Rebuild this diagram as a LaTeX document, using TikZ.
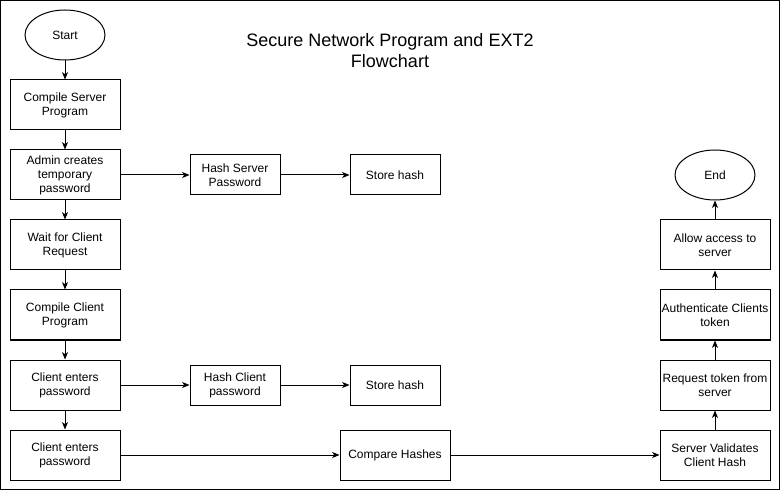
\documentclass[tikz,border=0pt]{standalone}
\usepackage{fontspec}
\setmainfont{Liberation Sans}
\usetikzlibrary{shapes.geometric,arrows.meta}
\begin{document}
\begin{tikzpicture}[x=0.75pt,y=-0.75pt,
  every node/.style={font=\fontsize{9}{10.5}\selectfont},
  box/.style={draw,line width=0.75pt,minimum width=82.5pt,minimum height=37.5pt,inner sep=1pt,align=center},
  sbox/.style={draw,line width=0.75pt,minimum width=67.5pt,minimum height=30pt,inner sep=1pt,align=center},
  term/.style={draw,ellipse,line width=0.75pt,minimum width=60pt,minimum height=37.5pt,inner sep=1pt,align=center},
  conn/.style={line width=0.75pt,-{Stealth[length=5.5pt,width=4.5pt,inset=1.5pt]}}]
\useasboundingbox (0,0) rectangle (781,491);
\draw[line width=0.75pt] (0.5,0.5) rectangle (779.5,489.5);
\node[align=center,font=\fontsize{13.5}{15.75}\selectfont] (title) at (390,51) {Secure Network Program and EXT2\\Flowchart};
\node[term] (start) at (65,35) {Start};
\node[box] (csp) at (65,105) {Compile Server\\Program};
\node[box] (admin) at (65,175) {Admin creates\\temporary\\password};
\node[box] (wait) at (65,245) {Wait for Client\\Request};
\node[box] (ccp) at (65,315) {Compile Client\\Program};
\node[box] (cep1) at (65,385) {Client enters\\password};
\node[box] (cep2) at (65,455) {Client enters\\password};
\node[sbox] (hsp) at (235,175) {Hash Server\\Password};
\node[sbox] (sh1) at (395,175) {Store hash};
\node[sbox] (hcp) at (235,385) {Hash Client\\password};
\node[sbox] (sh2) at (395,385) {Store hash};
\node[box] (cmp) at (395,455) {Compare Hashes};
\node[box] (svc) at (715,455) {Server Validates\\Client Hash};
\node[box] (rtk) at (715,385) {Request token from\\server};
\node[box] (auth) at (715,315) {Authenticate Clients\\token};
\node[box] (allow) at (715,245) {Allow access to\\server};
\node[term] (end) at (715,175) {End};
\draw[conn] (start) -- (csp);
\draw[conn] (csp) -- (admin);
\draw[conn] (admin) -- (wait);
\draw[conn] (wait) -- (ccp);
\draw[conn] (ccp) -- (cep1);
\draw[conn] (cep1) -- (cep2);
\draw[conn] (admin) -- (hsp);
\draw[conn] (hsp) -- (sh1);
\draw[conn] (cep1) -- (hcp);
\draw[conn] (hcp) -- (sh2);
\draw[conn] (cep2) -- (cmp);
\draw[conn] (cmp) -- (svc);
\draw[conn] (svc) -- (rtk);
\draw[conn] (rtk) -- (auth);
\draw[conn] (auth) -- (allow);
\draw[conn] (allow) -- (end);
\end{tikzpicture}
\end{document}
